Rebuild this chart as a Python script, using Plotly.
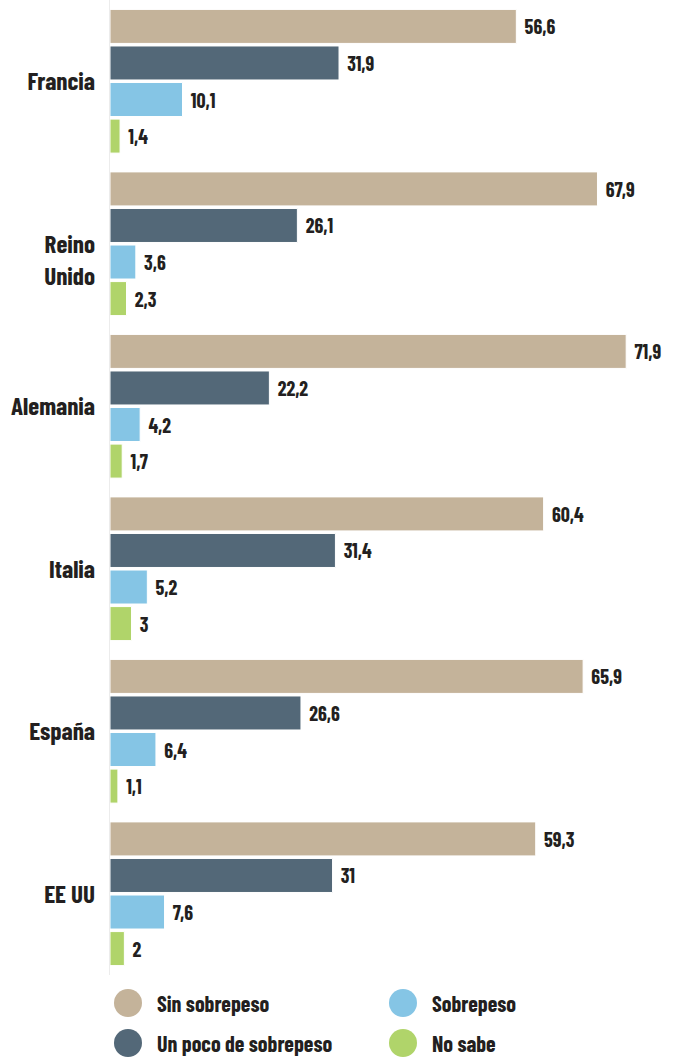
import plotly.graph_objects as go

countries = ["Francia", "Reino Unido", "Alemania", "Italia", "España", "EE UU"]
tick_labels = ["Francia", "\u00a0<br>Reino<br>Unido", "Alemania", "Italia", "España", "EE UU"]
series_names = ["Sin sobrepeso", "Un poco de sobrepeso", "Sobrepeso", "No sabe"]
sin_sobrepeso = [56.6, 67.9, 71.9, 60.4, 65.9, 59.3]
un_poco = [31.9, 26.1, 22.2, 31.4, 26.6, 31]
sobrepeso = [10.1, 3.6, 4.2, 5.2, 6.4, 7.6]
no_sabe = [1.4, 2.3, 1.7, 3, 1.1, 2]
colors = ["#c4b39a", "#536878", "#85c5e5", "#b0d46a"]

FONT = "Barlow Condensed, Archivo Narrow, sans-serif"
TXT = "#231f20"

def fmt(v):
    return ("%g" % v).replace(".", ",")

fig = go.Figure()
for name, vals, col in zip(series_names, [sin_sobrepeso, un_poco, sobrepeso, no_sabe], colors):
    fig.add_trace(go.Bar(
        y=countries, x=vals, name=name, orientation="h",
        marker=dict(color=col, line=dict(color="white", width=1)),
        text=[fmt(v) for v in vals],
        texttemplate="\u00a0\u200a%{text}",
        textposition="outside", constraintext="none", cliponaxis=False,
        textfont=dict(family=FONT, size=20, color=TXT, weight="bold"),
        showlegend=False,
    ))

fig.update_layout(
    width=675, height=1057,
    margin=dict(l=110, r=0, t=0, b=82, autoexpand=False),
    paper_bgcolor="white", plot_bgcolor="white",
    barmode="group", bargap=0.1, bargroupgap=0.07,
    font=dict(family=FONT, color=TXT),
    xaxis=dict(range=[0, 78.7], visible=False, fixedrange=True, automargin=False),
    yaxis=dict(autorange="reversed", showgrid=False, zeroline=False,
               showline=True, linecolor="#ececec", linewidth=1,
               ticks="", ticklabelstandoff=9, automargin=False,
               tickmode="array", tickvals=countries, ticktext=tick_labels,
               tickfont=dict(family=FONT, size=25, color=TXT, weight="bold")),
    showlegend=False,
)

# legend drawn as decoration (circles + labels)
legend_pos = [(128, 1003), (128, 1043), (403, 1003), (403, 1043)]
plot_h = 1057 - 82
for name, col, (cx, cy) in zip(series_names, colors, legend_pos):
    px = (cx - 110) / 565
    py = (plot_h - cy) / plot_h
    fig.add_shape(type="circle", xref="paper", yref="paper",
                  xsizemode="pixel", ysizemode="pixel", xanchor=px, yanchor=py,
                  x0=-14, x1=14, y0=-14, y1=14,
                  fillcolor=col, line=dict(width=0))
    fig.add_annotation(text=name, xref="paper", yref="paper",
                       x=px, y=py, xshift=27, xanchor="left", yanchor="middle",
                       showarrow=False,
                       font=dict(family=FONT, size=22, color=TXT, weight="bold"))

fig.write_html("out.html", config={"displayModeBar": False},
               post_script="document.body.style.margin='0';")
